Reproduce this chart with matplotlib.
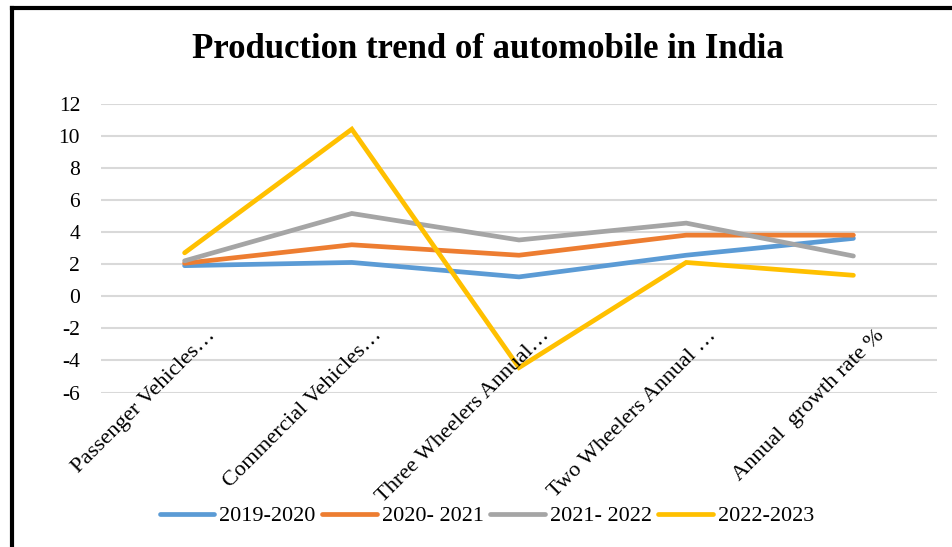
import matplotlib
matplotlib.use("Agg")
import matplotlib.pyplot as plt
from matplotlib.lines import Line2D
import matplotlib.transforms as mtransforms

categories = ["Passenger Vehicles…", "Commercial Vehicles…", "Three Wheelers Annual…",
              "Two Wheelers Annual …", "Annual  growth rate %"]
series_names = ["2019-2020", "2020- 2021", "2021- 2022", "2022-2023"]
s2019 = [1.9, 2.1, 1.2, 2.55, 3.6]
s2020 = [2.05, 3.2, 2.55, 3.8, 3.8]
s2021 = [2.2, 5.15, 3.5, 4.55, 2.5]
s2022 = [2.7, 10.4, -4.45, 2.1, 1.3]
yticks = [-6, -4, -2, 0, 2, 4, 6, 8, 10, 12]
colors = ["#5B9BD5", "#ED7D31", "#A5A5A5", "#FFC000"]

plt.rcParams['font.family'] = ['Liberation Serif', 'DejaVu Serif']

W, H = 953, 547
fig = plt.figure(figsize=(W / 100, H / 100), dpi=100)
fig.patch.set_facecolor("white")

left, right = 101 / W, 937 / W
bottom, top = 1 - 392.5 / H, 1 - 103.5 / H
ax = fig.add_axes([left, bottom, right - left, top - bottom])

x = list(range(len(categories)))
for vals, c in zip([s2019, s2020, s2021, s2022], colors):
    ax.plot(x, vals, color=c, lw=3.4, solid_capstyle="round", solid_joinstyle="miter", zorder=3)

ax.set_xlim(-0.5, len(categories) - 0.5)
ax.set_ylim(-6, 12)
ax.set_yticks(yticks)
ax.set_yticklabels([str(v) for v in yticks], fontsize=15.5)
ax.yaxis.grid(True, color="#D9D9D9", lw=1.5, zorder=0)
ax.set_axisbelow(True)
for s in ax.spines.values():
    s.set_visible(False)
ax.tick_params(axis="y", length=0, pad=15)
ax.set_xticks([])

# category labels rotated 45 deg
for i, lab in enumerate(categories):
    trans = mtransforms.blended_transform_factory(ax.transData, fig.transFigure) + \
        mtransforms.ScaledTranslation(31 / 100, 0, fig.dpi_scale_trans)
    ax.text(i, 1 - 336 / H, lab, transform=trans, rotation=45, rotation_mode="anchor",
            ha="right", va="baseline", fontsize=16.2, clip_on=False)

fig.text(488 / W, 1 - 50 / H, "Production trend of automobile in India", ha="center",
         va="center", fontsize=25, fontweight="bold")

handles = [Line2D([0], [0], color=c, lw=3.4, solid_capstyle="round") for c in colors]
fig.legend(handles, series_names, loc="center", bbox_to_anchor=(487 / W, 1 - 516 / H),
           ncol=4, frameon=False, fontsize=16, handlelength=2.45, handletextpad=0.22,
           columnspacing=0.3, borderaxespad=0)

# outer frame (left and top only)
fig.add_artist(Line2D([12 / W, 12 / W], [0, 1 - 8 / H], color="black", lw=3, transform=fig.transFigure))
fig.add_artist(Line2D([12 / W, 1], [1 - 8 / H, 1 - 8 / H], color="black", lw=3, transform=fig.transFigure))

fig.savefig("out.png", dpi=100)
